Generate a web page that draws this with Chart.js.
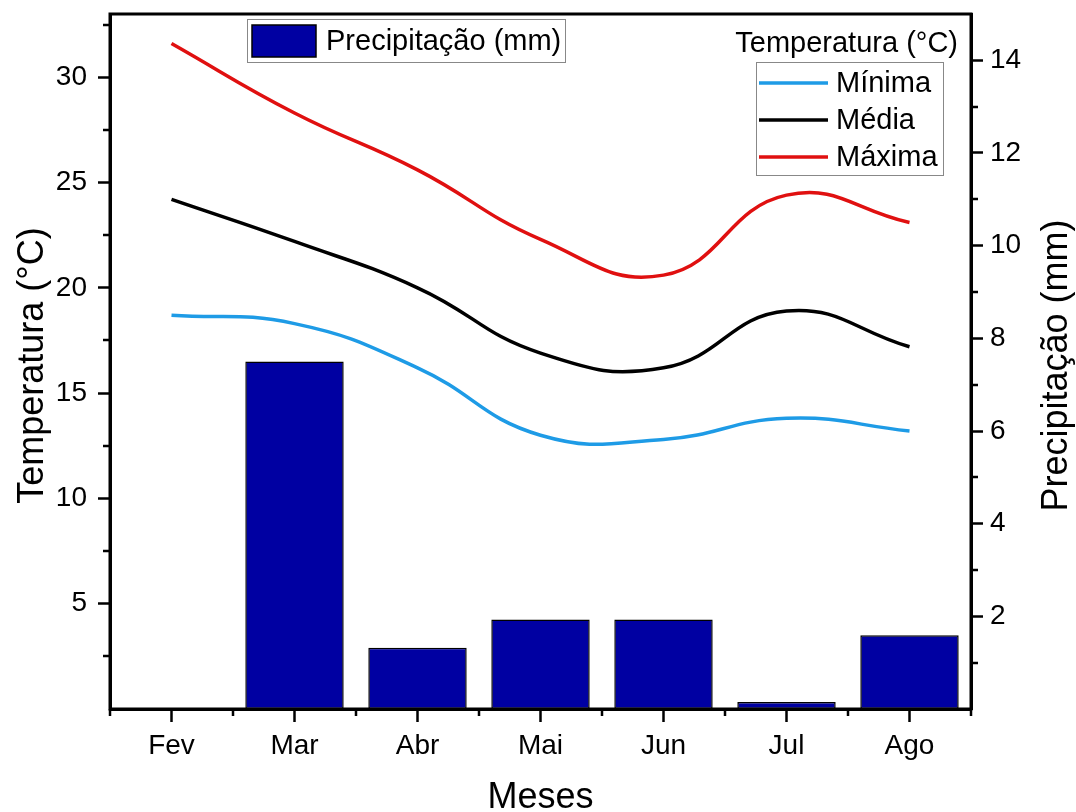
<!DOCTYPE html>
<html>
<head>
<meta charset="utf-8">
<script src="https://cdn.jsdelivr.net/npm/chart.js@4/dist/chart.umd.min.js"></script>
<style>
  html, body { margin: 0; padding: 0; background: #fff; }
  #wrap { width: 1076px; height: 812px; }
</style>
</head>
<body>
<div id="wrap"><canvas id="c" width="1076" height="812"></canvas></div>
<script>
// Monthly climate series
const months = ['Fev', 'Mar', 'Abr', 'Mai', 'Jun', 'Jul', 'Ago'];
const precipitacao = [0, 7.5, 1.32, 1.93, 1.93, 0.15, 1.59];
const tempMinima = [18.7, 18.3, 16.2, 13.0, 12.8, 13.8, 13.2];
const tempMedia = [24.2, 22.2, 20.0, 16.9, 16.2, 18.9, 17.2];
const tempMaxima = [31.6, 28.3, 25.6, 22.3, 20.6, 24.4, 23.1];

// Axis ticks
const tempTicks = [5, 10, 15, 20, 25, 30];
const tempMinorTicks = [2.5, 7.5, 12.5, 17.5, 22.5, 27.5, 32.5];
const precTicks = [2, 4, 6, 8, 10, 12, 14];
const precMinorTicks = [1, 3, 5, 7, 9, 11, 13];

const FONT = '"Liberation Sans", Arial, sans-serif';
const C_BAR = '#0000a2';
const C_MIN = '#1e9be6';
const C_MED = '#000000';
const C_MAX = '#e01010';

// Frame, minor ticks, axis titles and the two legend boxes
const decorations = {
  id: 'decorations',
  afterDraw(chart) {
    const ctx = chart.ctx;
    const a = chart.chartArea;
    const sx = chart.scales.x, sy = chart.scales.y, sy1 = chart.scales.y1;
    ctx.save();
    ctx.strokeStyle = '#000';
    ctx.lineWidth = 3;
    ctx.strokeRect(a.left, a.top, a.right - a.left, a.bottom - a.top);

    // minor ticks
    ctx.lineWidth = 2.5;
    ctx.beginPath();
    tempMinorTicks.forEach(v => {
      const y = Math.round(sy.getPixelForValue(v));
      ctx.moveTo(a.left, y); ctx.lineTo(a.left - 7, y);
    });
    precMinorTicks.forEach(v => {
      const y = Math.round(sy1.getPixelForValue(v));
      ctx.moveTo(a.right, y); ctx.lineTo(a.right + 7, y);
    });
    const step = sx.getPixelForValue(1) - sx.getPixelForValue(0);
    for (let i = 0; i <= months.length; i++) {
      const x = Math.round(sx.getPixelForValue(i) - step / 2);
      ctx.moveTo(x, a.bottom); ctx.lineTo(x, a.bottom + 7);
    }
    ctx.stroke();

    // axis titles
    ctx.fillStyle = '#000';
    ctx.font = '36px ' + FONT;
    ctx.textAlign = 'center';
    ctx.textBaseline = 'alphabetic';
    ctx.fillText('Meses', (a.left + a.right) / 2, 808);
    const midY = (a.top + a.bottom) / 2 + 4;
    ctx.save();
    ctx.translate(43, midY);
    ctx.rotate(-Math.PI / 2);
    ctx.fillText('Temperatura (°C)', 0, 0);
    ctx.restore();
    ctx.save();
    ctx.translate(1067, midY);
    ctx.rotate(-Math.PI / 2);
    ctx.fillText('Precipitação (mm)', 0, 0);
    ctx.restore();

    // precipitation legend
    const ds = chart.data.datasets;
    ctx.font = '29px ' + FONT;
    ctx.textAlign = 'left';
    ctx.textBaseline = 'middle';
    ctx.fillStyle = '#fff';
    ctx.fillRect(247, 19, 318, 43);
    ctx.strokeStyle = '#888';
    ctx.lineWidth = 1;
    ctx.strokeRect(247.5, 19.5, 318, 43);
    ctx.fillStyle = ds[0].backgroundColor;
    ctx.fillRect(252, 25, 64, 32);
    ctx.strokeStyle = '#000';
    ctx.lineWidth = 1.5;
    ctx.strokeRect(252, 25, 64, 32);
    ctx.fillStyle = '#000';
    ctx.fillText(ds[0].label, 326, 42);

    // temperature legend
    ctx.textAlign = 'right';
    ctx.fillText('Temperatura (°C)', 958, 44);
    ctx.fillStyle = '#fff';
    ctx.fillRect(756, 62, 187, 113);
    ctx.strokeStyle = '#888';
    ctx.lineWidth = 1;
    ctx.strokeRect(756.5, 62.5, 187, 113);
    ctx.textAlign = 'left';
    const rows = [1, 2, 3];
    const rowY = [83, 120, 157];
    rows.forEach((di, k) => {
      ctx.strokeStyle = ds[di].borderColor;
      ctx.lineWidth = 3.5;
      ctx.beginPath();
      ctx.moveTo(759, rowY[k]); ctx.lineTo(828, rowY[k]);
      ctx.stroke();
      ctx.fillStyle = '#000';
      ctx.fillText(ds[di].label, 836, rowY[k] + 1);
    });
    ctx.restore();
  }
};

// vertical axes: fixed width, no extra room reserved for the end labels
function fitVertical(width) {
  return function (s) {
    s.width = width;
    s.paddingTop = 0;
    s.paddingBottom = 0;
  };
}

new Chart(document.getElementById('c'), {
  type: 'bar',
  data: {
    labels: months,
    datasets: [
      {
        type: 'bar',
        label: 'Precipitação (mm)',
        data: precipitacao,
        yAxisID: 'y1',
        backgroundColor: C_BAR,
        borderColor: '#000',
        borderWidth: 1.5,
        borderSkipped: false,
        barPercentage: 0.8,
        categoryPercentage: 1.0,
        order: 2
      },
      {
        type: 'line', label: 'Mínima', data: tempMinima, yAxisID: 'y',
        borderColor: C_MIN, backgroundColor: C_MIN, borderWidth: 3.5,
        pointRadius: 0, tension: 0.45, fill: false, order: 1
      },
      {
        type: 'line', label: 'Média', data: tempMedia, yAxisID: 'y',
        borderColor: C_MED, backgroundColor: C_MED, borderWidth: 3.5,
        pointRadius: 0, tension: 0.45, fill: false, order: 1
      },
      {
        type: 'line', label: 'Máxima', data: tempMaxima, yAxisID: 'y',
        borderColor: C_MAX, backgroundColor: C_MAX, borderWidth: 3.5,
        pointRadius: 0, tension: 0.45, fill: false, order: 1
      }
    ]
  },
  options: {
    responsive: false,
    animation: false,
    devicePixelRatio: 1,
    layout: { padding: { top: 14, left: 0, right: 0, bottom: 0 } },
    plugins: { legend: { display: false }, tooltip: { enabled: false }, title: { display: false } },
    scales: {
      x: {
        offset: true,
        grid: { display: true, drawOnChartArea: false, offset: false, tickLength: 13, tickWidth: 2.5, tickColor: '#000' },
        border: { display: true, color: '#000', width: 3 },
        ticks: { color: '#000', font: { family: FONT, size: 28 }, padding: 7, maxRotation: 0 },
        afterFit(s) { s.height = 103; s.paddingLeft = 0; s.paddingRight = 0; }
      },
      y: {
        position: 'left',
        min: 0, max: 33,
        afterBuildTicks(s) { s.ticks = tempTicks.map(v => ({ value: v })); },
        grid: { display: true, drawOnChartArea: false, tickLength: 12, tickWidth: 2.5, tickColor: '#000' },
        border: { display: true, color: '#000', width: 3 },
        ticks: { color: '#000', font: { family: FONT, size: 28 }, padding: 11 },
        afterFit: fitVertical(110)
      },
      y1: {
        position: 'right',
        min: 0, max: 15,
        afterBuildTicks(s) { s.ticks = precTicks.map(v => ({ value: v })); },
        grid: { display: true, drawOnChartArea: false, tickLength: 12, tickWidth: 2.5, tickColor: '#000' },
        border: { display: true, color: '#000', width: 3 },
        ticks: { color: '#000', font: { family: FONT, size: 28 }, padding: 7 },
        afterFit: fitVertical(105)
      }
    }
  },
  plugins: [decorations]
});
</script>
</body>
</html>
